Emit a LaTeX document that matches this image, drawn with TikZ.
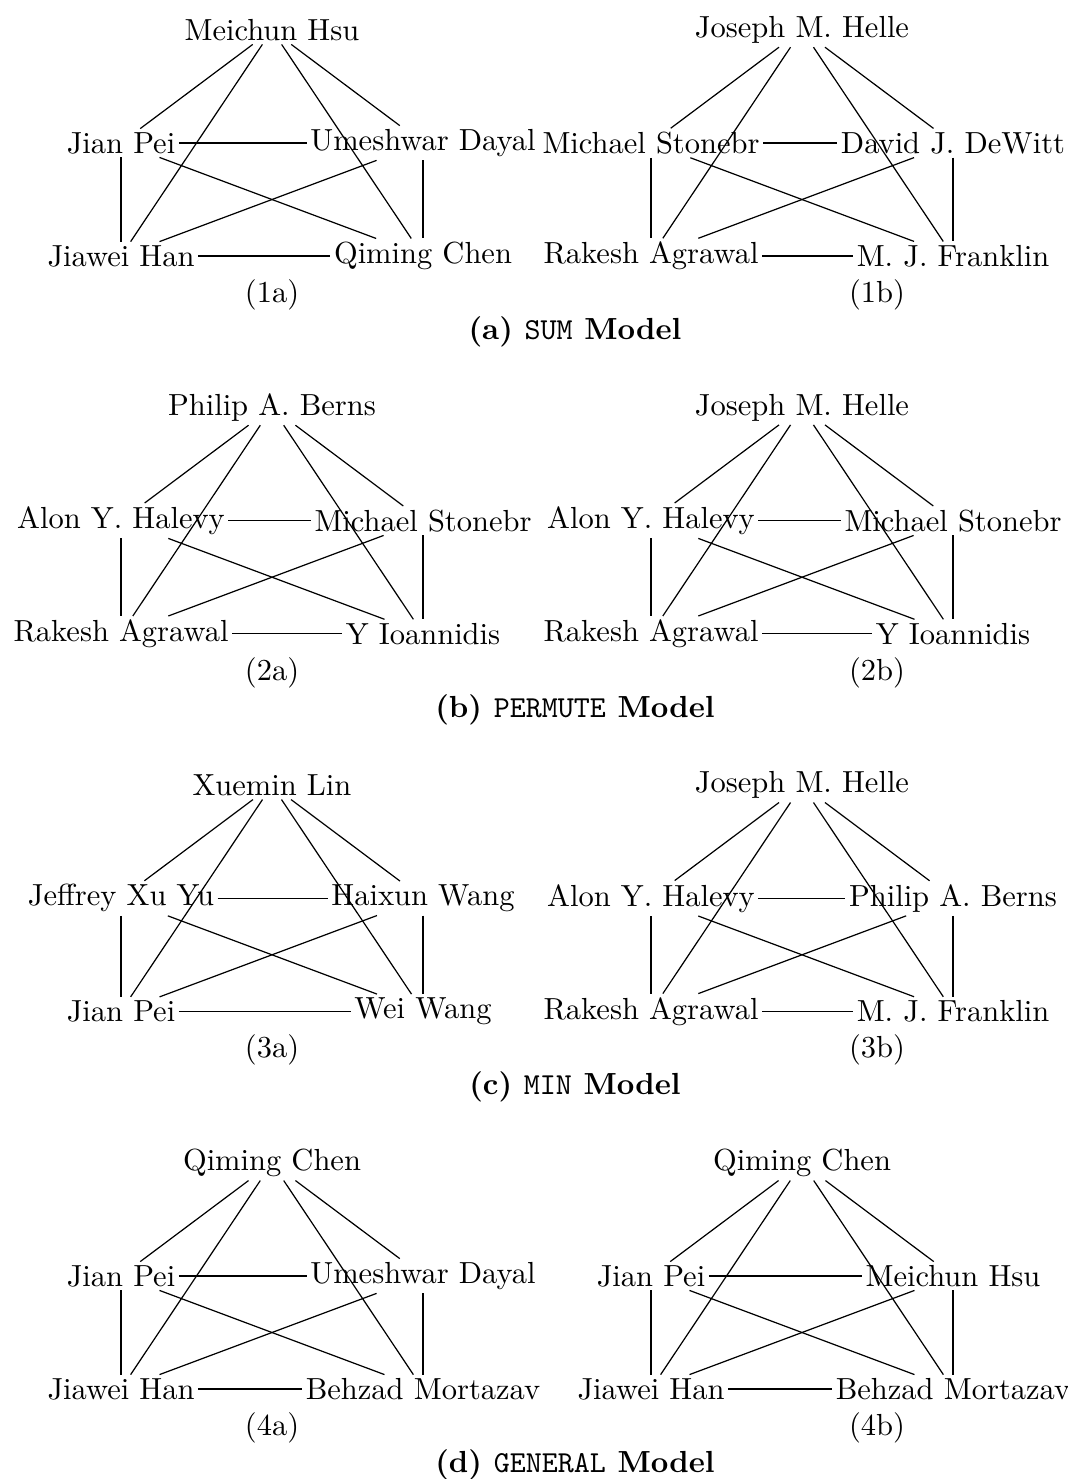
\documentclass[tikz,border=0pt]{standalone}
\usepackage{fontspec}
\tikzset{
  person/.style={inner xsep=1pt, inner ysep=1pt, font=\fontsize{10}{12}\selectfont},
  glabel/.style={inner sep=0pt, font=\fontsize{10}{12}\selectfont},
  capt/.style={inner sep=0pt, font=\fontsize{10}{12}\selectfont\bfseries},
  link/.style={line width=0.4pt, black},
}
% one complete graph on five authors: #1 id, #2/#3 shift,
% #4 top, #5 middle left, #6 middle right, #7 bottom left, #8 bottom right
\newcommand{\authorgraph}[8]{%
  \begin{scope}[shift={(#2,#3)}]
    \node[person] (#1t) at (272,30)  {#4};
    \node[person] (#1l) at (121,143) {#5};
    \node[person] (#1r) at (423,143) {#6};
    \node[person] (#1p) at (121,256) {#7};
    \node[person] (#1q) at (423,256) {#8};
    \draw[link] (#1t) -- (#1l);
    \draw[link] (#1t) -- (#1r);
    \draw[link] (#1t) -- (#1p);
    \draw[link] (#1t) -- (#1q);
    \draw[link] (#1l) -- (#1r);
    \draw[link] (#1l) -- (#1p);
    \draw[link] (#1l) -- (#1q);
    \draw[link] (#1r) -- (#1p);
    \draw[link] (#1r) -- (#1q);
    \draw[link] (#1p) -- (#1q);
  \end{scope}}
\begin{document}
\begin{tikzpicture}[x=0.3279pt, y=-0.3279pt]
  \useasboundingbox (0,0) rectangle (1068,1479);

  % (a) SUM
  \authorgraph{ga}{0}{0}{Meichun Hsu}{Jian Pei}{Umeshwar Dayal}{Jiawei Han}{Qiming Chen}
  \authorgraph{gb}{530}{0}{Joseph M. Helle}{Michael Stonebr}{David J. DeWitt}{Rakesh Agrawal}{M. J. Franklin}
  \node[glabel] (la) at (272,295) {(1a)};
  \node[glabel] (lb) at (877,295) {(1b)};
  \node[capt] (ca) at (575,332) {(a) \texttt{\mdseries SUM} Model};

  % (b) PERMUTE
  \authorgraph{gc}{0}{377.7}{Philip A. Berns}{Alon Y. Halevy}{Michael Stonebr}{Rakesh Agrawal}{Y Ioannidis}
  \authorgraph{gd}{530}{377.7}{Joseph M. Helle}{Alon Y. Halevy}{Michael Stonebr}{Rakesh Agrawal}{Y Ioannidis}
  \node[glabel] (lc) at (272,672.7) {(2a)};
  \node[glabel] (ld) at (877,672.7) {(2b)};
  \node[capt] (cb) at (575,709.7) {(b) \texttt{\mdseries PERMUTE} Model};

  % (c) MIN
  \authorgraph{ge}{0}{755.3}{Xuemin Lin}{Jeffrey Xu Yu}{Haixun Wang}{Jian Pei}{Wei Wang}
  \authorgraph{gf}{530}{755.3}{Joseph M. Helle}{Alon Y. Halevy}{Philip A. Berns}{Rakesh Agrawal}{M. J. Franklin}
  \node[glabel] (le) at (272,1050.3) {(3a)};
  \node[glabel] (lf) at (877,1050.3) {(3b)};
  \node[capt] (cc) at (575,1087.3) {(c) \texttt{\mdseries MIN} Model};

  % (d) GENERAL
  \authorgraph{gg}{0}{1133}{Qiming Chen}{Jian Pei}{Umeshwar Dayal}{Jiawei Han}{Behzad Mortazav}
  \authorgraph{gh}{530}{1133}{Qiming Chen}{Jian Pei}{Meichun Hsu}{Jiawei Han}{Behzad Mortazav}
  \node[glabel] (lg) at (272,1428) {(4a)};
  \node[glabel] (lh) at (877,1428) {(4b)};
  \node[capt] (cd) at (575,1465) {(d) \texttt{\mdseries GENERAL} Model};
\end{tikzpicture}
\end{document}
